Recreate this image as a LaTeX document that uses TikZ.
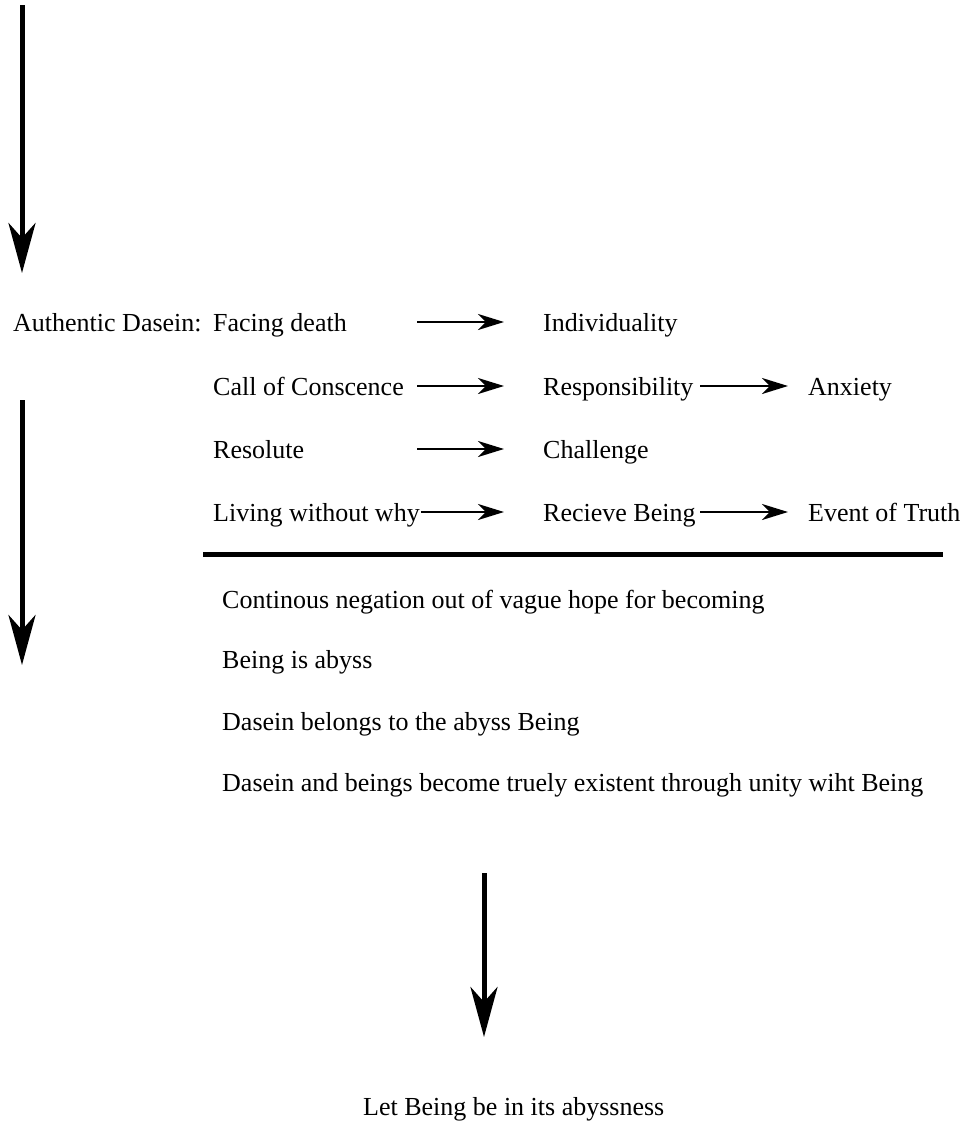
\documentclass[tikz,border=0pt]{standalone}
\usepackage{fontspec}
\setmainfont{Liberation Serif}
\usetikzlibrary{arrows.meta}
\begin{document}
\begin{tikzpicture}[x=1pt,y=-1pt,
  lbl/.style={anchor=base west,inner sep=0pt,font=\fontsize{26}{30}\selectfont},
  bigarrow/.style={line width=5pt,-{Stealth[length=50pt,width=27pt,inset=15pt]}},
  smallarrow/.style={line width=2.8pt,-{Stealth[length=26pt,width=16pt,inset=8pt]}},
  rule/.style={line width=5pt}]
\useasboundingbox (0,0) rectangle (967,1133);

% left column arrows and the bottom arrow
\coordinate (t1) at (22,5);
\coordinate (t2) at (22,273);
\coordinate (m1) at (22,400);
\coordinate (m2) at (22,665);
\coordinate (b1) at (484,873);
\coordinate (b2) at (484,1037);
\draw[bigarrow] (t1) -- (t2);
\draw[bigarrow] (m1) -- (m2);
\draw[bigarrow] (b1) -- (b2);

% table of concepts
\node[lbl] (ad)  at (13,331)  {Authentic Dasein:};
\node[lbl] (fd)  at (213,331) {Facing death};
\node[lbl] (ind) at (543,331) {Individuality};
\node[lbl] (cc)  at (213,395) {Call of Conscence};
\node[lbl] (res) at (543,395) {Responsibility};
\node[lbl] (anx) at (808,395) {Anxiety};
\node[lbl] (rl)  at (213,458) {Resolute};
\node[lbl] (ch)  at (543,458) {Challenge};
\node[lbl] (lw)  at (213,521) {Living without why};
\node[lbl] (rb)  at (543,521) {Recieve Being};
\node[lbl] (et)  at (808,521) {Event of Truth};

\draw[smallarrow] ([xshift=-126pt,yshift=9pt]ind.base west) -- ([xshift=-39pt,yshift=9pt]ind.base west);
\draw[smallarrow] ([xshift=-126pt,yshift=9pt]res.base west) -- ([xshift=-39pt,yshift=9pt]res.base west);
\draw[smallarrow] ([xshift=-126pt,yshift=9pt]ch.base west) -- ([xshift=-39pt,yshift=9pt]ch.base west);
\draw[smallarrow] ([xshift=1pt,yshift=9pt]lw.base east) -- ([xshift=-39pt,yshift=9pt]rb.base west);
\draw[smallarrow] ([xshift=-108pt,yshift=9pt]anx.base west) -- ([xshift=-20pt,yshift=9pt]anx.base west);
\draw[smallarrow] ([xshift=-108pt,yshift=9pt]et.base west) -- ([xshift=-20pt,yshift=9pt]et.base west);

% dividing rule
\coordinate (r1) at (203,554.5);
\coordinate (r2) at (943,554.5);
\draw[rule] (r1) -- (r2);

% statements below the rule
\node[lbl] (s1) at (222,608) {Continous negation out of vague hope for becoming};
\node[lbl] (s2) at (222,668) {Being is abyss};
\node[lbl] (s3) at (222,730) {Dasein belongs to the abyss Being};
\node[lbl] (s4) at (222,791) {Dasein and beings become truely existent through unity wiht Being};

\node[lbl] (fin) at (363,1115) {Let Being be in its abyssness};
\end{tikzpicture}
\end{document}
